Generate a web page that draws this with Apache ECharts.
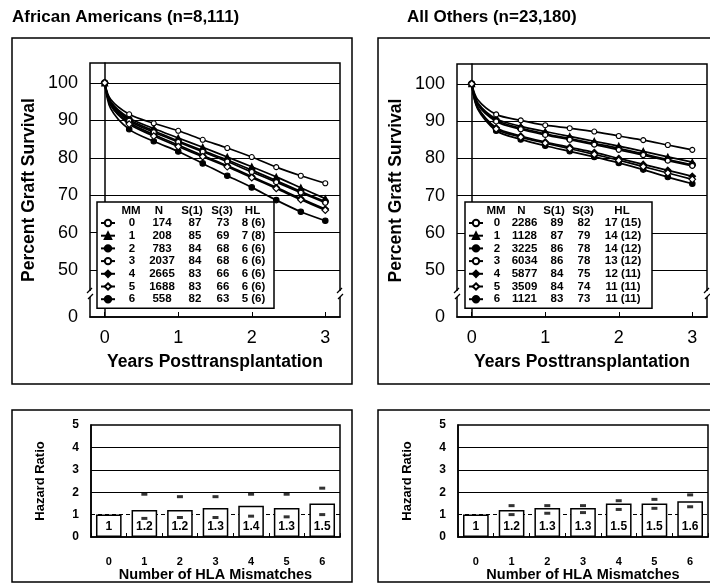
<!DOCTYPE html>
<html><head><meta charset="utf-8">
<script src="https://cdn.jsdelivr.net/npm/echarts@6/dist/echarts.min.js"></script>
<style>html,body{margin:0;padding:0;background:#fff}#c{width:710px;height:585px}</style>
</head><body><div id="c"></div>
<script>
// ---------- DATA ----------
const years = [0, 0.08, 0.333, 0.667, 1, 1.333, 1.667, 2, 2.333, 2.667, 3];
const mmLabels = ['0', '1', '2', '3', '4', '5', '6'];
const yTickValues = [50, 60, 70, 80, 90, 100];
const xTickValues = [0, 1, 2, 3];

// African Americans: percent graft survival per mismatch group
const aaMM0 = [100, 95.6, 91.6, 89.2, 87.2, 84.8, 82.6, 80.2, 77.5, 75.2, 73.2];
const aaMM1 = [100, 95.0, 90.6, 87.8, 85.3, 82.8, 80.2, 77.6, 74.9, 72.0, 69.1];
const aaMM2 = [100, 94.8, 90.2, 87.2, 84.5, 81.9, 79.4, 76.7, 73.9, 71.0, 68.3];
const aaMM3 = [100, 94.6, 89.9, 86.8, 84.2, 81.6, 79.0, 76.2, 73.5, 70.7, 68.0];
const aaMM4 = [100, 94.3, 89.4, 86.2, 83.4, 80.6, 77.9, 75.0, 72.1, 69.1, 66.3];
const aaMM5 = [100, 94.0, 89.0, 85.8, 83.0, 80.3, 77.6, 74.7, 71.8, 68.8, 66.0];
const aaMM6 = [100, 93.2, 87.6, 84.4, 81.7, 78.5, 75.2, 72.1, 68.7, 65.6, 63.2];

// All Others
const aoMM0 = [100, 95.8, 91.8, 90.2, 88.9, 88.1, 87.2, 86.0, 84.9, 83.6, 82.3];
const aoMM1 = [100, 95.0, 90.6, 88.6, 87.2, 85.9, 84.6, 83.3, 81.9, 80.4, 79.0];
const aoMM2 = [100, 94.7, 90.2, 88.1, 86.6, 85.3, 84.0, 82.7, 81.2, 79.7, 78.3];
const aoMM3 = [100, 94.5, 89.9, 87.8, 86.3, 85.0, 83.7, 82.3, 80.9, 79.4, 78.0];
const aoMM4 = [100, 93.8, 88.2, 86.0, 84.4, 83.0, 81.6, 80.0, 78.4, 76.8, 75.2];
const aoMM5 = [100, 93.6, 87.9, 85.7, 84.1, 82.6, 81.1, 79.5, 77.8, 76.1, 74.4];
const aoMM6 = [100, 93.3, 87.4, 85.1, 83.4, 81.9, 80.4, 78.8, 77.0, 75.0, 73.2];

// legend table columns
const aaN  = ['174', '208', '783', '2037', '2665', '1688', '558'];
const aaS1 = ['87', '85', '84', '84', '83', '83', '82'];
const aaS3 = ['73', '69', '68', '68', '66', '66', '63'];
const aaHL = ['8 (6)', '7 (8)', '6 (6)', '6 (6)', '6 (6)', '6 (6)', '5 (6)'];
const aoN  = ['2286', '1128', '3225', '6034', '5877', '3509', '1121'];
const aoS1 = ['89', '87', '86', '86', '84', '84', '83'];
const aoS3 = ['82', '79', '78', '78', '75', '74', '73'];
const aoHL = ['17 (15)', '14 (12)', '14 (12)', '13 (12)', '12 (11)', '11 (11)', '11 (11)'];

// hazard ratios with confidence bounds
const hlaCats = ['0', '1', '2', '3', '4', '5', '6'];
const aaHazard = [1, 1.2, 1.2, 1.3, 1.4, 1.3, 1.5];
const aaUpper  = ['-', 1.91, 1.8, 1.8, 1.91, 1.91, 2.18];
const aaLower  = ['-', 0.83, 0.87, 0.87, 0.93, 0.9, 1.0];
const aoHazard = [1, 1.2, 1.3, 1.3, 1.5, 1.5, 1.6];
const aoUpper  = ['-', 1.4, 1.4, 1.4, 1.62, 1.68, 1.88];
const aoLower  = ['-', 1.0, 1.06, 1.09, 1.23, 1.28, 1.35];
const hazardTicks = [0, 1, 2, 3, 4, 5];

// ---------- STYLE / BUILD ----------
const FONT = 'Liberation Sans, Arial, sans-serif';
const markerStyles = [
  {symbol: 'circle', size: 5, fill: '#fff'},
  {symbol: 'triangle', size: 6, fill: '#000'},
  {symbol: 'circle', size: 6, fill: '#000'},
  {symbol: 'circle', size: 5, fill: '#fff'},
  {symbol: 'diamond', size: 6.5, fill: '#000'},
  {symbol: 'diamond', size: 6.5, fill: '#fff'},
  {symbol: 'circle', size: 5.5, fill: '#000'}
];
const aaSeriesVals = [aaMM0, aaMM1, aaMM2, aaMM3, aaMM4, aaMM5, aaMM6];
const aoSeriesVals = [aoMM0, aoMM1, aoMM2, aoMM3, aoMM4, aoMM5, aoMM6];

function lineSeries(prefix, vals, axis) {
  return vals.map((v, k) => {
    const ms = markerStyles[k];
    const s = {
      name: prefix + k, type: 'line', xAxisIndex: axis, yAxisIndex: axis,
      data: years.map((t, i) => i === 1 ? {value: [t, v[i]], symbol: 'none'} : [t, v[i]]),
      smooth: 0.3, symbol: ms.symbol, symbolSize: ms.size, showSymbol: true,
      lineStyle: {color: '#000', width: 1.7},
      itemStyle: {color: ms.fill, borderColor: '#000', borderWidth: 1.1},
      z: 3 + (ms.fill === '#000' ? 0 : 1)
    };
    if (k === 0) {
      s.markLine = {silent: true, symbol: 'none', z: 1, label: {show: false},
        lineStyle: {color: '#000', width: 1, type: 'solid'},
        data: yTickValues.map(y => ({yAxis: y}))};
    }
    return s;
  });
}

function legendFor(prefix, left, widths, N, S1, S3, HL) {
  return {
    data: mmLabels.map(m => prefix + m), orient: 'vertical', left: left, top: 202,
    padding: [15, 3, 3, 3], itemWidth: 14, itemHeight: 8, itemGap: 0.7,
    borderColor: '#000', borderWidth: 1.5, backgroundColor: '#fff', borderRadius: 0,
    selectedMode: false, z: 6,
    textStyle: {fontFamily: FONT, fontWeight: 'bold', fontSize: 11.5, color: '#000', lineHeight: 12,
      rich: {
        mm: {width: widths[0], align: 'center', fontFamily: FONT, fontWeight: 'bold', fontSize: 11.5},
        n: {width: widths[1], align: 'right', fontFamily: FONT, fontWeight: 'bold', fontSize: 11.5},
        s1: {width: widths[2], align: 'center', fontFamily: FONT, fontWeight: 'bold', fontSize: 11.5},
        s3: {width: widths[3], align: 'center', fontFamily: FONT, fontWeight: 'bold', fontSize: 11.5},
        hl: {width: widths[4], align: 'center', fontFamily: FONT, fontWeight: 'bold', fontSize: 11.5}
      }},
    formatter: name => {
      const k = +name.slice(prefix.length);
      return '{mm|' + mmLabels[k] + '}{n|' + N[k] + '}{s1|' + S1[k] + '}{s3|' + S3[k] + '}{hl|' + HL[k] + '}';
    }
  };
}
const aaW = [24, 36, 30, 26, 35];
const aoW = [18, 37, 28, 26, 52];

function headerText(x, widths) {
  return {type: 'text', x: x, y: 205, z: 20, style: {
    text: '{mm|MM}{n|N}{s1|S(1)}{s3|S(3)}{hl|HL}',
    font: 'bold 11.5px ' + FONT, fill: '#000',
    rich: {
      mm: {width: widths[0], align: 'center', font: 'bold 11.5px ' + FONT},
      n: {width: widths[1] - 4, align: 'right', font: 'bold 11.5px ' + FONT},
      s1: {width: widths[2] + 4, align: 'center', font: 'bold 11.5px ' + FONT},
      s3: {width: widths[3], align: 'center', font: 'bold 11.5px ' + FONT},
      hl: {width: widths[4], align: 'center', font: 'bold 11.5px ' + FONT}
    }}};
}

function breakMark(x, y) {
  return [
    {type: 'rect', z: 20, shape: {x: x - 3, y: y - 3, width: 6, height: 6}, style: {fill: '#fff'}},
    {type: 'line', z: 21, shape: {x1: x - 3, y1: y - 1, x2: x + 2, y2: y - 6}, style: {stroke: '#000', lineWidth: 1.2}},
    {type: 'line', z: 21, shape: {x1: x - 2, y1: y + 5, x2: x + 3, y2: y}, style: {stroke: '#000', lineWidth: 1.2}}
  ];
}

function lineXAxis(i) {
  return {gridIndex: i, type: 'value', min: -0.2, max: 3.2,
    axisLine: {show: true, lineStyle: {color: '#000', width: 1.5}},
    axisTick: {show: true, inside: true, length: 5, customValues: xTickValues, lineStyle: {color: '#000'}},
    axisLabel: {customValues: xTickValues, fontSize: 18, color: '#000', fontFamily: FONT, margin: 12},
    splitLine: {show: false},
    name: 'Years Posttransplantation', nameLocation: 'middle', nameGap: 36,
    nameTextStyle: {fontSize: 17.5, fontWeight: 'bold', color: '#000', fontFamily: FONT}};
}
function lineYAxis(i) {
  const vals = [37.5].concat(yTickValues);
  return {gridIndex: i, type: 'value', min: 37.5, max: 105.3,
    axisLine: {show: true, lineStyle: {color: '#000', width: 1.5}},
    axisTick: {show: false},
    axisLabel: {customValues: vals, fontSize: 18, color: '#000', fontFamily: FONT, margin: 12,
      formatter: v => v < 40 ? '0' : String(v)},
    splitLine: {show: false},
    name: 'Percent Graft Survival', nameLocation: 'middle', nameGap: 52, nameRotate: 90,
    nameTextStyle: {fontSize: 17.5, fontWeight: 'bold', color: '#000', fontFamily: FONT}};
}
function barXAxis(i) {
  return {gridIndex: i, type: 'category', data: hlaCats,
    axisLine: {show: true, lineStyle: {color: '#000', width: 1.5}},
    axisTick: {show: true, inside: true, length: 4, lineStyle: {color: '#000'}},
    axisLabel: {fontSize: 11, fontWeight: 'bold', color: '#000', fontFamily: FONT, margin: 19},
    name: 'Number of HLA Mismatches', nameLocation: 'middle', nameGap: 28,
    nameTextStyle: {fontSize: 14.5, fontWeight: 'bold', color: '#000', fontFamily: FONT}};
}
function barYAxis(i) {
  return {gridIndex: i, type: 'value', min: 0, max: 5, interval: 1,
    axisLine: {show: true, lineStyle: {color: '#000', width: 1.5}},
    axisTick: {show: false},
    axisLabel: {customValues: hazardTicks, fontSize: 12, fontWeight: 'bold', color: '#000', fontFamily: FONT, margin: 12},
    splitLine: {show: false},
    name: 'Hazard Ratio', nameLocation: 'middle', nameGap: 44, nameRotate: 90,
    nameTextStyle: {fontSize: 13, fontWeight: 'bold', color: '#000', fontFamily: FONT}};
}
function barSeries(axis, hz, up, lo) {
  return [
    {type: 'bar', xAxisIndex: axis, yAxisIndex: axis, data: hz, barWidth: '72%', z: 2,
      itemStyle: {color: '#fff', borderColor: '#000', borderWidth: 1.5},
      label: {show: true, position: 'insideBottom', distance: 4, fontSize: 12, fontWeight: 'bold', color: '#000', fontFamily: FONT},
      markLine: {silent: true, symbol: 'none', z: 1, label: {show: false},
        data: [
          {yAxis: 1, lineStyle: {color: '#000', width: 1, type: [4, 3]}},
          {yAxis: 2, lineStyle: {color: '#000', width: 1, type: 'solid'}},
          {yAxis: 3, lineStyle: {color: '#000', width: 1, type: 'solid'}},
          {yAxis: 4, lineStyle: {color: '#000', width: 1, type: 'solid'}}
        ]}},
    {type: 'scatter', xAxisIndex: axis, yAxisIndex: axis, data: up, symbol: 'rect', symbolSize: [6, 3], z: 5, itemStyle: {color: '#000'}},
    {type: 'scatter', xAxisIndex: axis, yAxisIndex: axis, data: lo, symbol: 'rect', symbolSize: [6, 3], z: 5, itemStyle: {color: '#000'}}
  ];
}

const gridStyle = {show: true, borderColor: '#000', borderWidth: 1.5, backgroundColor: 'transparent'};
const option = {
  animation: false,
  backgroundColor: '#fff',
  textStyle: {fontFamily: FONT},
  title: [
    {text: 'African Americans (n=8,111)', left: 7, top: 4, textStyle: {fontSize: 17, fontWeight: 'bold', color: '#000', fontFamily: FONT}},
    {text: 'All Others (n=23,180)', left: 402, top: 4, textStyle: {fontSize: 17, fontWeight: 'bold', color: '#000', fontFamily: FONT}}
  ],
  grid: [
    Object.assign({left: 90, top: 63, width: 250, height: 254}, gridStyle),
    Object.assign({left: 457, top: 64, width: 250, height: 253}, gridStyle),
    Object.assign({left: 91, top: 425, width: 249, height: 112}, gridStyle),
    Object.assign({left: 458, top: 425, width: 250, height: 112}, gridStyle)
  ],
  xAxis: [lineXAxis(0), lineXAxis(1), barXAxis(2), barXAxis(3)],
  yAxis: [lineYAxis(0), lineYAxis(1), barYAxis(2), barYAxis(3)],
  legend: [
    legendFor('AA', 97, aaW, aaN, aaS1, aaS3, aaHL),
    legendFor('AO', 465, aoW, aoN, aoS1, aoS3, aoHL)
  ],
  graphic: [
    {type: 'rect', z: 0, shape: {x: 12, y: 38, width: 340, height: 346}, style: {fill: 'none', stroke: '#000', lineWidth: 1.5}},
    {type: 'rect', z: 0, shape: {x: 378, y: 38, width: 345, height: 346}, style: {fill: 'none', stroke: '#000', lineWidth: 1.5}},
    {type: 'rect', z: 0, shape: {x: 12, y: 410, width: 340, height: 172}, style: {fill: 'none', stroke: '#000', lineWidth: 1.5}},
    {type: 'rect', z: 0, shape: {x: 378, y: 410, width: 345, height: 172}, style: {fill: 'none', stroke: '#000', lineWidth: 1.5}},
    headerText(119, aaW),
    headerText(487, aoW)
  ].concat(breakMark(90, 294), breakMark(340, 294), breakMark(457, 294), breakMark(707, 294)),
  series: [].concat(
    lineSeries('AA', aaSeriesVals, 0),
    lineSeries('AO', aoSeriesVals, 1),
    barSeries(2, aaHazard, aaUpper, aaLower),
    barSeries(3, aoHazard, aoUpper, aoLower)
  )
};
const chart = echarts.init(document.getElementById('c'), null, {renderer: 'canvas'});
chart.setOption(option);
</script>
</body></html>
